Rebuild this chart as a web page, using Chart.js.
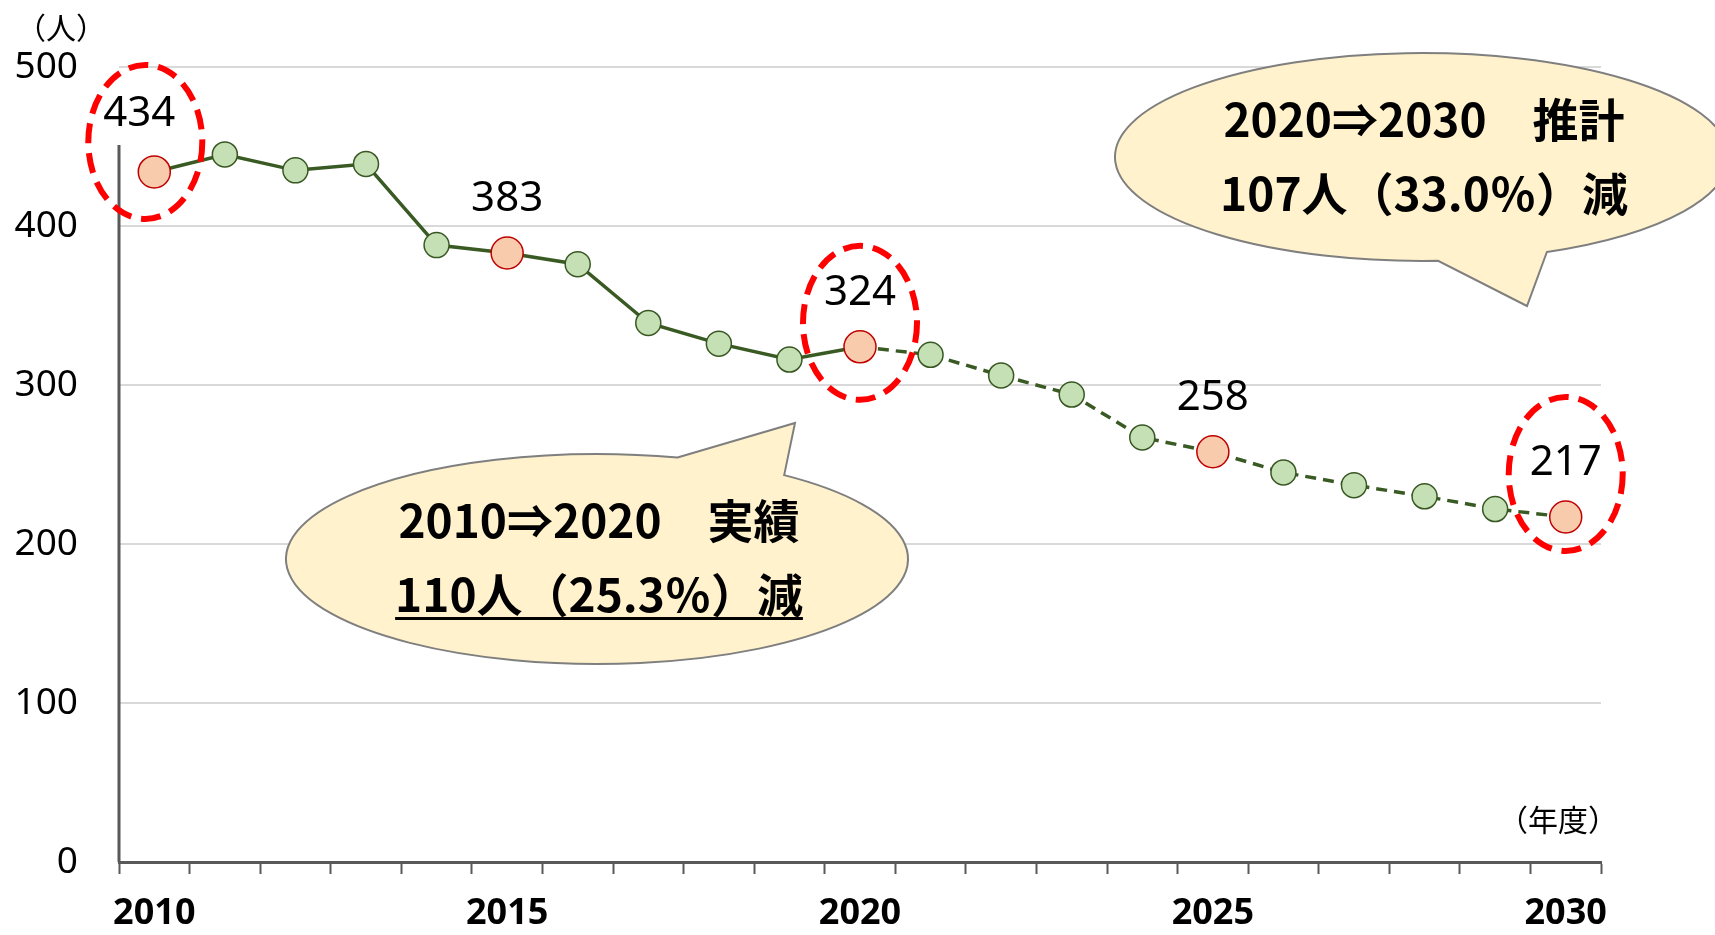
<!DOCTYPE html>
<html>
<head>
<meta charset="utf-8">
<script src="https://cdn.jsdelivr.net/npm/chart.js@4/dist/chart.umd.min.js"></script>
<style>
  body { margin: 0; background: #fff; }
  canvas { display: block; }
</style>
</head>
<body>
<canvas id="chart" width="1715" height="935"></canvas>
<script>
// data
const years = ['2010', '2011', '2012', '2013', '2014', '2015', '2016', '2017', '2018', '2019', '2020',
    '2021', '2022', '2023', '2024', '2025', '2026', '2027', '2028', '2029', '2030'];
const people = [434, 445, 435, 439, 388, 383, 376, 339, 326, 316, 324,
    319, 306, 294, 267, 258, 245, 237, 230, 222, 217];
const shownYears = ['2010', '2015', '2020', '2025', '2030'];
const lastActual = 10;            // 2020 = last actual value, projection after
const marked = [0, 5, 10, 15, 20];  // orange points with value labels
const circled = [0, 10, 20];        // red dashed rings
const yTicks = [0, 100, 200, 300, 400, 500];
const actualText = ['2010⇒2020　実績', '110人（25.3％）減'];
const forecastText = ['2020⇒2030　推計', '107人（33.0％）減'];

const GREEN = '#C5E0B4', GREEN_EDGE = '#385723';
const ORANGE = '#F8CBAD', ORANGE_EDGE = '#C00000';
const LINE = '#3A5A24';
const JP = '"Noto Sans CJK JP", "Noto Sans", sans-serif';

const ringOffset = { 0: [-9, -30], 10: [0, -24], 20: [0, -43] };
const labelOffset = { 0: [-15, -58] };

function drawBubble(ctx, b, lines, underline) {
    const rad = d => d * Math.PI / 180;
    const a1 = rad(b.a1), a2 = rad(b.a2);
    ctx.save();
    ctx.beginPath();
    ctx.moveTo(b.cx + b.rx * Math.cos(a1), b.cy + b.ry * Math.sin(a1));
    ctx.lineTo(b.tip[0], b.tip[1]);
    ctx.lineTo(b.cx + b.rx * Math.cos(a2), b.cy + b.ry * Math.sin(a2));
    ctx.ellipse(b.cx, b.cy, b.rx, b.ry, 0, a2, a1 + Math.PI * 2, false);
    ctx.closePath();
    ctx.fillStyle = '#FFF2CC';
    ctx.fill();
    ctx.lineWidth = 2;
    ctx.strokeStyle = '#7F7F7F';
    ctx.stroke();

    ctx.fillStyle = '#000';
    ctx.font = 'bold 46px ' + JP;
    ctx.textAlign = 'center';
    ctx.textBaseline = 'middle';
    lines.forEach((t, i) => {
        const y = b.ty + i * 74;
        ctx.fillText(t, b.tx, y);
        if (underline && i === lines.length - 1) {
            const w = ctx.measureText(t).width;
            ctx.fillRect(b.tx - w / 2, y + 22, w, 3);
        }
    });
    ctx.restore();
}

const overlay = {
    id: 'overlay',
    afterDatasetsDraw(chart) {
        const ctx = chart.ctx;
        const pts = chart.getDatasetMeta(0).data;
        const y = chart.scales.y;

        // y axis line (starts below the first value label)
        ctx.save();
        ctx.strokeStyle = '#595959';
        ctx.lineWidth = 3;
        ctx.beginPath();
        ctx.moveTo(chart.chartArea.left, 145);
        ctx.lineTo(chart.chartArea.left, y.getPixelForValue(0));
        ctx.stroke();

        // value labels
        ctx.fillStyle = '#000';
        ctx.font = '42px "Noto Sans", sans-serif';
        ctx.textAlign = 'center';
        ctx.textBaseline = 'middle';
        marked.forEach(i => {
            const off = labelOffset[i] || [0, -54];
            ctx.fillText(String(people[i]), pts[i].x + off[0], pts[i].y + off[1]);
        });

        // red dashed rings
        ctx.strokeStyle = '#FF0000';
        ctx.lineWidth = 6;
        ctx.setLineDash([20, 10]);
        circled.forEach(i => {
            const off = ringOffset[i];
            ctx.beginPath();
            ctx.ellipse(pts[i].x + off[0], pts[i].y + off[1], 57, 77, 0, 0, Math.PI * 2);
            ctx.stroke();
        });
        ctx.restore();
    },
    afterDraw(chart) {
        const ctx = chart.ctx;
        drawBubble(ctx, { cx: 597, cy: 559, rx: 311, ry: 105, a1: -75, a2: -53,
            tip: [795, 423], tx: 599, ty: 521 }, actualText, true);
        drawBubble(ctx, { cx: 1422, cy: 157, rx: 307, ry: 104, a1: 66, a2: 87,
            tip: [1527, 306], tx: 1424, ty: 120 }, forecastText, false);

        ctx.save();
        ctx.fillStyle = '#000';
        ctx.font = '30px ' + JP;
        ctx.textAlign = 'center';
        ctx.textBaseline = 'middle';
        ctx.fillText('（人）', 61, 28);
        ctx.fillText('（年度）', 1558, 820);
        ctx.restore();
    }
};

new Chart(document.getElementById('chart'), {
    type: 'line',
    data: {
        labels: years,
        datasets: [{
            data: people,
            borderColor: LINE,
            borderWidth: 3.5,
            tension: 0,
            fill: false,
            clip: false,
            segment: {
                borderDash: ctx => ctx.p0DataIndex >= lastActual ? [11, 7] : undefined
            },
            pointRadius: people.map((v, i) => marked.includes(i) ? 16 : 12.5),
            pointHoverRadius: people.map((v, i) => marked.includes(i) ? 16 : 12.5),
            pointBackgroundColor: people.map((v, i) => marked.includes(i) ? ORANGE : GREEN),
            pointBorderColor: people.map((v, i) => marked.includes(i) ? ORANGE_EDGE : GREEN_EDGE),
            pointBorderWidth: 1.5
        }]
    },
    options: {
        responsive: false,
        devicePixelRatio: 1,
        animation: false,
        layout: { padding: { top: 67, right: 114, left: 0, bottom: 0 } },
        plugins: { legend: { display: false }, tooltip: { enabled: false } },
        scales: {
            x: {
                offset: true,
                grid: { offset: true, drawOnChartArea: false, tickLength: 12, tickWidth: 2, tickColor: '#595959' },
                border: { color: '#595959', width: 3 },
                ticks: {
                    autoSkip: false,
                    maxRotation: 0,
                    padding: 18,
                    color: '#000',
                    font: { family: '"Noto Sans", sans-serif', size: 36, weight: 'bold' },
                    callback: (v, i) => shownYears.includes(years[i]) ? years[i] : ''
                },
                afterFit: s => { s.height = 73; }
            },
            y: {
                min: yTicks[0],
                max: yTicks[yTicks.length - 1],
                afterBuildTicks: s => { s.ticks = yTicks.map(v => ({ value: v })); },
                grid: { color: '#D9D9D9', lineWidth: 2, drawTicks: false },
                border: { display: false },
                ticks: {
                    padding: 41,
                    color: '#000',
                    font: { family: '"Noto Sans", sans-serif', size: 37 }
                },
                afterFit: s => { s.width = 119; }
            }
        }
    },
    plugins: [overlay]
});
</script>
</body>
</html>
